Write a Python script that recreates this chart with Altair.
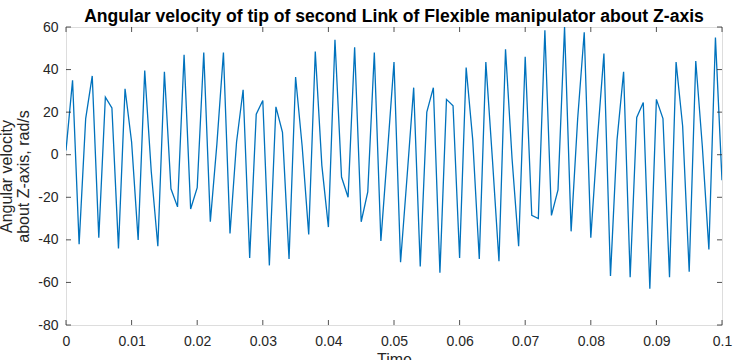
import altair as alt
import pandas as pd

# sample times (s) and angular velocity readings (rad/s)
time_s = [round(i * 0.001, 3) for i in range(101)]
omega = [2, 35, -42, 17, 37, -39, 27, 22, -44, 31,
         6, -40, 39.5, -8, -43, 39, -16, -24.5, 47, -25.5,
         -15.5, 48, -31.5, 5, 48, -37, 6, 30.5, -48.5, 19,
         25.5, -52, 22.5, 10.5, -49, 36.5, 4, -37.5, 48.5, -5,
         -34, 54, -10.5, -20, 50.5, -31.5, -17.5, 48, -40.5, 1,
         43.5, -50.5, -10, 31.5, -52.5, 20, 31.5, -55.5, 26, 23,
         -48.5, 41, 7, -49, 43.5, -2, -50, 49.5, -2, -43,
         46, -28.5, -30, 58.5, -28.5, -16.5, 60, -36, 17, 57.5,
         -39, 7, 47.5, -57, 7, 39, -57.5, 17.5, 24.5, -63,
         26, 17, -57.5, 43.5, 13.5, -55, 44, 4, -44.5, 55,
         -12]

x_ticks = [0, 0.01, 0.02, 0.03, 0.04, 0.05, 0.06, 0.07, 0.08, 0.09, 0.1]
y_ticks = [-80, -60, -40, -20, 0, 20, 40, 60]

W, H = 656, 298
FONT = "Liberation Sans"
AXC = "#262626"

df = pd.DataFrame({"t": time_s, "w": omega})
xt = pd.DataFrame({"t": x_ticks})
yt = pd.DataFrame({"v": y_ticks})

xscale = alt.Scale(domain=[0, 0.1], nice=False, zero=False)
yscale = alt.Scale(domain=[-80, 60], nice=False, zero=False)

line = alt.Chart(df).mark_line(color="#0072BD", strokeWidth=1.3, clip=True).encode(
    x=alt.X("t:Q", scale=xscale,
            axis=alt.Axis(values=x_ticks, labelExpr="'' + datum.value", title="Time",
                          ticks=False, domain=False, grid=False,
                          labelPadding=9, labelFontSize=14, labelColor=AXC,
                          labelFont=FONT, titleFont=FONT, titleFontSize=16,
                          titleFontWeight="normal", titleColor=AXC, titlePadding=3,
                          labelFlush=False)),
    y=alt.Y("w:Q", scale=yscale,
            axis=alt.Axis(values=y_ticks, labelExpr="'' + datum.value",
                          title=["Angular velocity", "about Z-axis, rad/s"],
                          ticks=False, domain=False, grid=False,
                          labelPadding=8, labelFontSize=14, labelColor=AXC,
                          labelFont=FONT, titleFont=FONT, titleFontSize=16,
                          titleFontWeight="normal", titleColor=AXC,
                          titleX=-52, titleY=H / 2, titleAngle=270,
                          titleBaseline="bottom", titleAlign="center",
                          titleLineHeight=17, labelFlush=False)),
)

tick_x_bottom = alt.Chart(xt).mark_rule(color=AXC, strokeWidth=0.8).encode(
    x=alt.X("t:Q", scale=xscale), y=alt.value(H), y2=alt.value(H - 5))
tick_x_top = alt.Chart(xt).mark_rule(color=AXC, strokeWidth=0.8).encode(
    x=alt.X("t:Q", scale=xscale), y=alt.value(0), y2=alt.value(5))
tick_y_left = alt.Chart(yt).mark_rule(color=AXC, strokeWidth=0.8).encode(
    y=alt.Y("v:Q", scale=yscale), x=alt.value(0), x2=alt.value(5))
tick_y_right = alt.Chart(yt).mark_rule(color=AXC, strokeWidth=0.8).encode(
    y=alt.Y("v:Q", scale=yscale), x=alt.value(W), x2=alt.value(W - 5))

chart = alt.layer(line, tick_x_bottom, tick_x_top, tick_y_left, tick_y_right).properties(
    width=W, height=H,
    title=alt.TitleParams(
        "Angular velocity of tip of second Link of Flexible manipulator about Z-axis",
        font=FONT, fontSize=17.6, fontWeight="bold", color="#000000",
        anchor="middle", offset=-6),
    autosize=alt.AutoSizeParams(type="none"),
    padding={"left": 66, "top": 27, "right": 14, "bottom": 35},
).configure_view(stroke=AXC, strokeWidth=1).configure(background="white")

chart.save("out.html", embed_options={"renderer": "svg", "actions": False})
